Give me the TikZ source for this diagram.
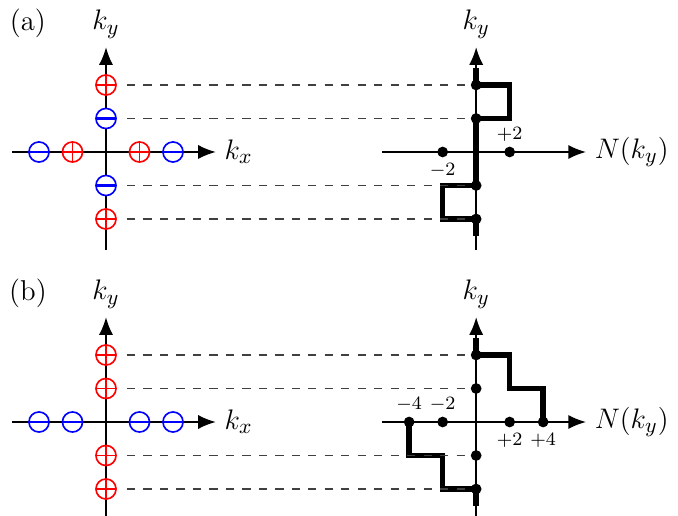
\documentclass[tikz,border=0pt]{standalone}
\usetikzlibrary{arrows.meta}
\begin{document}
\begin{tikzpicture}[x=0.5cm, y=0.5cm,
    every node/.style={font=\fontsize{12.2}{15}\selectfont},
    axis/.style={line width=0.8pt, -{Latex[length=7.5pt,width=6pt]}},
    pcharge/.style={circle, draw=red, fill=white, line width=0.7pt, minimum size=0.3cm, inner sep=0pt,
        path picture={\draw[red, line width=0.8pt] (path picture bounding box.west) -- (path picture bounding box.east)
            (path picture bounding box.north) -- (path picture bounding box.south);}},
    ncharge/.style={circle, draw=blue, fill=white, line width=0.7pt, minimum size=0.3cm, inner sep=0pt,
        path picture={\draw[blue, line width=0.9pt] (path picture bounding box.west) -- (path picture bounding box.east);}},
    dot/.style={circle, fill, inner sep=0pt, minimum size=0.16cm},
    level/.style={line width=0.8pt, dash pattern=on 3.5pt off 3.5pt, black!75},
    stair/.style={line width=2.3pt},
    tick/.style={font=\fontsize{8.5}{10}\selectfont, inner sep=1pt}
]
\useasboundingbox (-3.164,-10.866) rectangle (17.075,4.537);

% (a) 電荷の配置
\node (lbla) at (-2.33,3.85) {(a)};
\draw[axis] (-2.8,0) coordinate (kxa0) -- (3.28,0) coordinate (kxa1) node[right] {$k_x$};
\draw[axis] (0,-2.93) coordinate (kya0) -- (0,3.13) coordinate (kya1) node[above] {$k_y$};
\foreach \y/\s/\n in {2/pcharge/1, 1/ncharge/2, -1/ncharge/3, -2/pcharge/4}
    \node[\s] (qa\n) at (0,\y) {};
\foreach \x/\s/\n in {-2/ncharge/5, -1/pcharge/6, 1/pcharge/7, 2/ncharge/8}
    \node[\s] (qa\n) at (\x,0) {};

% (a) N(k_y)
\begin{scope}[shift={(11.05,0)}]
\draw[axis] (-2.8,0) coordinate (nxa0) -- (3.28,0) coordinate (nxa1) node[right] {$N(k_y)$};
\draw[axis] (0,-2.93) coordinate (nya0) -- (0,3.13) coordinate (nya1) node[above] {$k_y$};
\draw[stair] (0,2.5) -- (0,2) -- (1,2) -- (1,1) -- (0,1) -- (0,-1) -- (-1,-1) -- (-1,-2) -- (0,-2) -- (0,-2.5);
\foreach \y/\n in {2/1, 1/2, -1/3, -2/4}
    \node[dot] (da\n) at (0,\y) {};
\node[dot, label={[tick, label distance=1pt]below:$-2$}] (dam2) at (-1,0) {};
\node[dot, label={[tick, label distance=1pt]above:$+2$}] (dap2) at (1,0) {};
\end{scope}

\foreach \n in {1,...,4}
    \draw[level] ([xshift=0.15cm]qa\n.east) -- (da\n.west);

% (b) 電荷の配置
\begin{scope}[shift={(0,-8.06)}]
\node (lblb) at (-2.33,3.85) {(b)};
\draw[axis] (-2.8,0) coordinate (kxb0) -- (3.28,0) coordinate (kxb1) node[right] {$k_x$};
\draw[axis] (0,-2.93) coordinate (kyb0) -- (0,3.13) coordinate (kyb1) node[above] {$k_y$};
\foreach \y/\n in {2/1, 1/2, -1/3, -2/4}
    \node[pcharge] (qb\n) at (0,\y) {};
\foreach \x/\n in {-2/5, -1/6, 1/7, 2/8}
    \node[ncharge] (qb\n) at (\x,0) {};

% (b) N(k_y)
\begin{scope}[shift={(11.05,0)}]
\draw[axis] (-2.8,0) coordinate (nxb0) -- (3.28,0) coordinate (nxb1) node[right] {$N(k_y)$};
\draw[axis] (0,-2.93) coordinate (nyb0) -- (0,3.13) coordinate (nyb1) node[above] {$k_y$};
\draw[stair] (0,2.5) -- (0,2) -- (1,2) -- (1,1) -- (2,1) -- (2,0);
\draw[stair] (-2,0) -- (-2,-1) -- (-1,-1) -- (-1,-2) -- (0,-2) -- (0,-2.5);
\foreach \y/\n in {2/1, 1/2, -1/3, -2/4}
    \node[dot] (db\n) at (0,\y) {};
\node[dot, label={[tick, label distance=1pt]above:$-4$}] (dbm4) at (-2,0) {};
\node[dot, label={[tick, label distance=1pt]above:$-2$}] (dbm2) at (-1,0) {};
\node[dot, label={[tick, label distance=1pt]below:$+2$}] (dbp2) at (1,0) {};
\node[dot, label={[tick, label distance=1pt]below:$+4$}] (dbp4) at (2,0) {};
\end{scope}

\foreach \n in {1,...,4}
    \draw[level] ([xshift=0.15cm]qb\n.east) -- (db\n.west);
\end{scope}

\end{tikzpicture}
\end{document}
